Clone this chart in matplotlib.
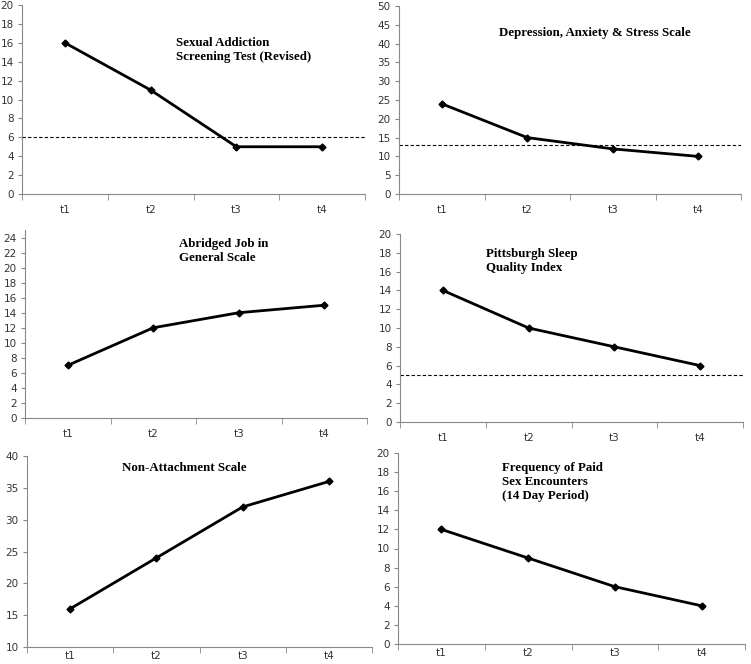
import numpy as np
import matplotlib
matplotlib.use("Agg")
from matplotlib import pyplot as plt

times = ["t1", "t2", "t3", "t4"]

sast = [16, 11, 5, 5]
dass = [24, 15, 12, 10]
ajig = [7, 12, 14, 15]
psqi = [14, 10, 8, 6]
nas = [16, 24, 32, 36]
paid = [12, 9, 6, 4]

titles = ["Sexual Addiction\nScreening Test (Revised)",
          "Depression, Anxiety & Stress Scale",
          "Abridged Job in\nGeneral Scale",
          "Pittsburgh Sleep\nQuality Index",
          "Non-Attachment Scale",
          "Frequency of Paid\nSex Encounters\n(14 Day Period)"]
cutoffs = [6, 13, None, 5, None, None]

W, H = 751, 664
fig = plt.figure(figsize=(W / 100, H / 100), dpi=100)

# pixel boxes: left, top, right, bottom
boxes = [(22, 5, 365, 194), (399, 6, 741, 194),
         (25, 230, 367, 418), (400, 234, 743, 422),
         (27, 456, 372, 647), (398, 453, 745, 644)]
ylims = [(0, 20, 2), (0, 50, 5), (0, 25, 2), (0, 20, 2), (10, 40, 5), (0, 20, 2)]
# title placement in axes fraction (x, y, align)
tpos = [(0.45, 0.83, "left"), (0.573, 0.89, "center"), (0.45, 0.955, "left"),
        (0.25, 0.925, "left"), (0.455, 0.97, "center"), (0.30, 0.955, "left")]
xpad = [8, 8, 8, 8, 3, 3]
series = [sast, dass, ajig, psqi, nas, paid]

x = np.arange(1, len(times) + 1)
for i in range(6):
    l, t, r, b = boxes[i]
    ax = fig.add_axes([l / W, 1 - b / H, (r - l) / W, (b - t) / H])
    ax.plot(x, series[i], color="black", lw=2, marker="D", ms=3.5)
    if cutoffs[i] is not None:
        ax.axhline(cutoffs[i], color="black", lw=0.8, ls=(0, (3, 2)))
    lo, hi, step = ylims[i]
    ax.set_ylim(lo, hi)
    ax.set_yticks(np.arange(lo, hi + 0.1, step) if hi % step == 0 else np.arange(lo, hi, step))
    ax.set_xlim(0.5, len(times) + 0.5)
    ax.set_xticks(x)
    ax.set_xticklabels(times)
    ax.set_xticks(np.arange(0.5, len(times) + 1), minor=True)
    ax.tick_params(axis="x", which="major", length=0, pad=xpad[i], labelsize=7.5, colors="#333333")
    ax.tick_params(axis="x", which="minor", length=4, color="#888888", direction="out")
    ax.tick_params(axis="y", length=3, color="#888888", labelcolor="#333333", labelsize=7.5, pad=3)
    for s in ["top", "right"]:
        ax.spines[s].set_visible(False)
    for s in ["left", "bottom"]:
        ax.spines[s].set_color("#888888")
        ax.spines[s].set_linewidth(0.8)
    tx, ty, ha = tpos[i]
    ax.text(tx, ty, titles[i], transform=ax.transAxes, ha=ha, va="top",
            family="Liberation Serif", fontweight="bold", fontsize=9.3, linespacing=1.22)
    ax.patch.set_alpha(0)

fig.savefig("out.png", dpi=100)
